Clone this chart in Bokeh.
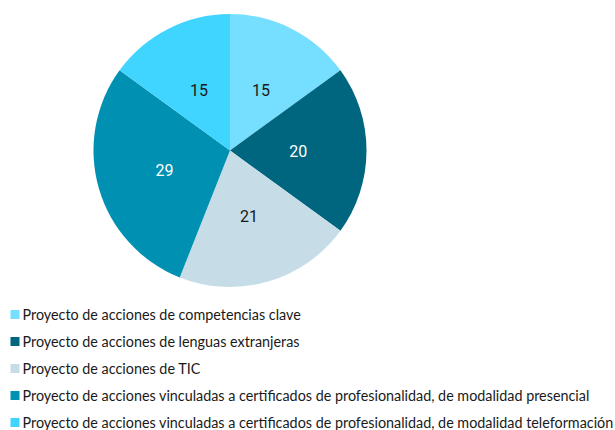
import math
from bokeh.plotting import figure
from bokeh.models import Range1d, ColumnDataSource
from bokeh.core.properties import value
from bokeh.embed import file_html
from bokeh.resources import INLINE

categories = [
    "Proyecto de acciones de competencias clave",
    "Proyecto de acciones de lenguas extranjeras",
    "Proyecto de acciones de TIC",
    "Proyecto de acciones vinculadas a certificados de profesionalidad, de modalidad presencial",
    "Proyecto de acciones vinculadas a certificados de profesionalidad, de modalidad teleformación",
]
values = [15, 20, 21, 29, 15]
colors = ["#76DFFF", "#00657F", "#C6DDE8", "#0090B2", "#40D5FF"]
label_colors = ["#1A1A1A", "#FFFFFF", "#1A1A1A", "#FFFFFF", "#1A1A1A"]

W, H = 615, 430
p = figure(width=W, height=H, output_backend="svg", toolbar_location=None,
           x_range=Range1d(0, W), y_range=Range1d(0, H), min_border=0)
p.axis.visible = False
p.grid.visible = False
p.outline_line_color = None
p.background_fill_color = "white"
p.border_fill_color = "white"

cx, cy, R = 229.5, H - 150, 136.5
total = float(sum(values))
starts, ends, lx, ly = [], [], [], []
cum = 0.0
for v in values:
    a0 = cum / total * 2 * math.pi
    cum += v
    a1 = cum / total * 2 * math.pi
    starts.append(math.pi / 2 - a0)
    ends.append(math.pi / 2 - a1)
    mid = (a0 + a1) / 2
    lx.append(cx + 0.5 * R * math.sin(mid))
    ly.append(cy + 0.5 * R * math.cos(mid))

src = ColumnDataSource(dict(start=starts, end=ends, color=colors,
                            lx=lx, ly=ly, txt=[str(v) for v in values],
                            tc=label_colors))
p.wedge(x=cx, y=cy, radius=R, start_angle="start", end_angle="end",
        direction="clock", fill_color="color", line_color=None, source=src)
p.text(x="lx", y="ly", text="txt", text_color="tc", source=src,
       text_font=value("Roboto"), text_font_size="16px",
       text_align="center", text_baseline="middle")

# legend
ys = [H - (314 + 27 * i) for i in range(len(categories))]
p.rect(x=[14.5] * len(categories), y=ys, width=9, height=9,
       fill_color=colors, line_color=None)
p.text(x=[22] * len(categories), y=ys, text=categories,
       text_font=value("Lato"), text_font_size="14.35px",
       text_color="#1A1A1A", text_align="left", text_baseline="middle")

open("out.html", "w").write(file_html(p, INLINE))
